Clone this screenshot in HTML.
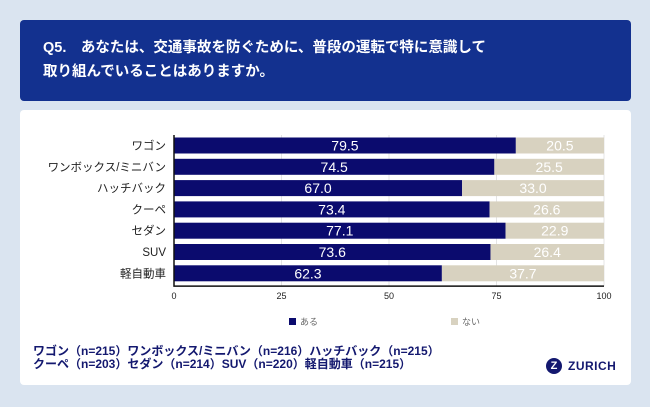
<!DOCTYPE html>
<html><head><meta charset="utf-8"><style>
body{margin:0;width:650px;height:407px;background:#dae4f0;font-family:"Liberation Sans","Noto Sans CJK JP",sans-serif;position:relative;overflow:hidden}
#hdr{position:absolute;left:20px;top:20px;width:611px;height:81px;background:#13318f;border-radius:4px}
#ttl{position:absolute;left:43px;top:36px;color:#fff;font-size:14.5px;line-height:24px;font-weight:bold}
#panel{position:absolute;left:20px;top:110px;width:611px;height:275px;background:#fff;border-radius:4px}
#note{position:absolute;left:33px;top:345px;color:#13186f;font-size:12px;line-height:12.5px;font-weight:bold}
</style></head><body>
<div id="hdr"></div>
<div id="ttl">Q5.　あなたは、交通事故を防ぐために、普段の運転で特に意識して<br>取り組んでいることはありますか。</div>
<div id="panel"></div>
<svg id="chart" width="650" height="407" style="position:absolute;left:0;top:0"></svg>
<div id="note">ワゴン（n=215）ワンボックス/ミニバン（n=216）ハッチバック（n=215）<br>クーペ（n=203）セダン（n=214）SUV（n=220）軽自動車（n=215）</div>
<div style="position:absolute;left:546px;top:358px;display:flex;align-items:center">
<div style="width:16px;height:16px;border-radius:50%;background:#13186f;color:#fff;font-size:11px;font-weight:bold;text-align:center;line-height:16px">Z</div>
<span style="margin-left:6px;color:#13186f;font-size:12px;font-weight:bold;letter-spacing:0.5px">ZURICH</span></div>
<script>
const categories=["ワゴン","ワンボックス/ミニバン","ハッチバック","クーペ","セダン","SUV","軽自動車"];
const yesValues=[79.5,74.5,67.0,73.4,77.1,73.6,62.3];
const noValues=[20.5,25.5,33.0,26.6,22.9,26.4,37.7];
const ticks=[0,25,50,75,100];
const svg=document.getElementById('chart');
const NS="http://www.w3.org/2000/svg";
const X0=174,X1=604,T=135,RH=21.3,BH=16;
const xs=v=>X0+(X1-X0)*v/100;
function mk(t,a,txt){const e=document.createElementNS(NS,t);for(const k in a)e.setAttribute(k,a[k]);if(txt!=null)e.textContent=txt;svg.appendChild(e);return e;}
ticks.forEach(t=>{
 const g=mk('line',{x1:xs(t),x2:xs(t),y1:T,y2:T+RH*7+2,stroke:'#e4e4e4'});
 
 
 const l=mk('text',{x:xs(t),y:299,'font-size':9,'text-anchor':'middle',fill:'#222'},t);
 
 
});
categories.forEach((c,i)=>{
 const y=T+2.5+i*RH;
 const a=mk('rect',{x:xs(0),y:y,width:xs(yesValues[i])-xs(0),height:BH,fill:'#0b0b6e'});
 
 
 const b=mk('rect',{x:xs(yesValues[i]),y:y,width:xs(yesValues[i]+noValues[i])-xs(yesValues[i]),height:BH,fill:'#d8d2c0'});
 
 
 const t1=mk('text',{x:(xs(0)+xs(yesValues[i]))/2,y:y+13,'font-size':14,'text-anchor':'middle',fill:'#fff'},yesValues[i].toFixed(1));
 
 
 const t2=mk('text',{x:(xs(yesValues[i])+xs(100))/2,y:y+13,'font-size':14,'text-anchor':'middle',fill:'#fff'},noValues[i].toFixed(1));
 
 
 const cl=mk('text',{x:166,y:y+12,'font-size':11.5,'text-anchor':'end',fill:'#222'},c);
 
 
});
const ax=mk('path',{d:`M${X0} ${T}V${T+RH*7+2}H${X1}`,stroke:'#111',fill:'none','stroke-width':1.5});


[[289,'#0b0b6e','ある'],[451,'#d8d2c0','ない']].forEach(([x,col,lab])=>{
 const r=mk('rect',{x:x,y:318,width:7,height:7,fill:col});
 
 
 const t=mk('text',{x:x+11,y:325,'font-size':9,fill:'#666'},lab);
 
 
});
</script>
</body></html>
